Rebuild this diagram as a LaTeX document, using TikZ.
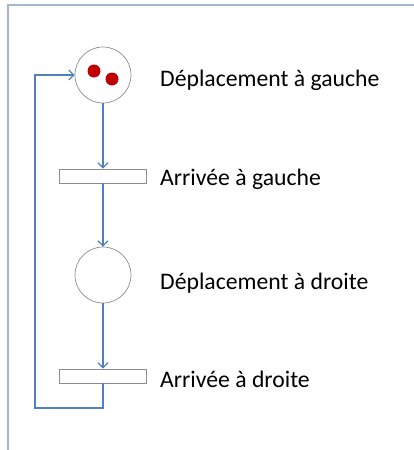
\documentclass[tikz,border=0pt]{standalone}
\usepackage{fontspec}
\setmainfont{Carlito}
\usetikzlibrary{arrows.meta}
\definecolor{frameblue}{HTML}{A7B7CF}
\definecolor{arrowblue}{HTML}{4F81BD}
\definecolor{placegray}{HTML}{8C8C8C}
\definecolor{tokenred}{HTML}{C00000}
\tikzset{
  place/.style={circle,draw=placegray,line width=0.7pt,minimum size=56pt,inner sep=0pt},
  trans/.style={rectangle,draw=placegray,line width=0.7pt,minimum width=87pt,minimum height=14pt,inner sep=0pt},
  flow/.style={draw=arrowblue,line width=1.3pt,-{Straight Barb[length=5pt,width=10pt,line width=1.2pt]}},
  lbl/.style={anchor=base west,inner sep=0pt,font=\fontsize{23.7}{27}\selectfont},
  token/.style={circle,fill=tokenred,minimum size=13pt,inner sep=0pt}
}
\begin{document}
\begin{tikzpicture}[x=1pt,y=-1pt]
\useasboundingbox (0,0) rectangle (414,450);
\draw[frameblue,line width=1.2pt] (8,450) -- (8,5) -- (414,5);
\node[place] (p1) at (103,75) {};
\node[token] (t1) at (94,71) {};
\node[token] (t2) at (112,79) {};
\node[trans] (tr1) at (103,176) {};
\node[place] (p2) at (103,275) {};
\node[trans] (tr2) at (103,376) {};
\node[lbl] (l1) at (160,86) {Déplacement à gauche};
\node[lbl] (l2) at (160,185) {Arrivée à gauche};
\node[lbl] (l3) at (160,289) {Déplacement à droite};
\node[lbl] (l4) at (160,387) {Arrivée à droite};
\coordinate (c1) at (103,408);
\coordinate (c2) at (35,408);
\coordinate (c3) at (35,75);
\draw[flow] (p1) -- (tr1);
\draw[flow] (tr1) -- (p2);
\draw[flow] (p2) -- (tr2);
\draw[flow] (tr2.south) -- (c1) -- (c2) -- (c3) -- (p1.west);
\end{tikzpicture}
\end{document}
